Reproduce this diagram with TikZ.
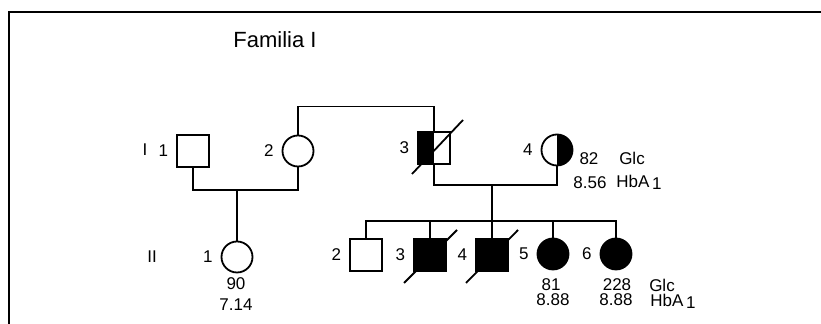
\documentclass[tikz,border=0pt]{standalone}
\usepackage{fontspec}
\setmainfont{Liberation Sans}
\usetikzlibrary{calc}
\tikzset{
  male/.style={draw,rectangle,minimum size=16pt,inner sep=0pt},
  female/.style={draw,circle,minimum size=15.5pt,inner sep=0pt},
  sick/.style={fill=black},
  lefthalf/.style={path picture={\fill[black] (path picture bounding box.south west) rectangle (path picture bounding box.north);}},
  righthalf/.style={path picture={\fill[black] (path picture bounding box.south) rectangle (path picture bounding box.north east);}},
  lab/.style={font=\fontsize{8.5}{9}\selectfont,inner sep=1pt},
  num/.style={label={[lab,label distance=2.5pt]left:#1}},
}
\begin{document}
\begin{tikzpicture}[x=0.5pt,y=-0.5pt,line width=0.9pt]
	\useasboundingbox (0,0) rectangle (821,324);
	\draw (9,340) -- (9,12) -- (840,12);
	\node[font=\fontsize{11}{12}\selectfont] (title) at (275,40) {Familia I};
	\node[lab] (genI) at (145,150) {I};
	\node[lab] (genII) at (152,257) {II};
	\node[male,num=1] (i1) at (193,151) {};
	\node[female,num=2] (i2) at (298,151) {};
	\node[male,lefthalf,num=3] (i3) at (434,148) {};
	\node[female,righthalf,num=4] (i4) at (557,150) {};
	\node[female,num=1] (ii1) at (237,257) {};
	\node[male,num=2] (ii2) at (366,255) {};
	\node[male,sick,num=3] (ii3) at (430,255) {};
	\node[male,sick,num=4] (ii4) at (492,255) {};
	\node[female,sick,num=5] (ii5) at (553,254) {};
	\node[female,sick,num=6] (ii6) at (616,254) {};
	\coordinate (m1) at (237,190);
	\coordinate (m2) at (492,185);
	\coordinate (sib) at (492,221);
	\draw (i2.north) -- ++(0,-28) -| (i3.north);
	\draw (i1.south) |- (m1) -| (i2.south);
	\draw (m1) -- (ii1.north);
	\draw (i3.south) |- (m2) -| (i4.south);
	\draw (m2) -- (sib);
	\draw (ii2.north) |- (sib) -| (ii6.north);
	\draw (ii3.north) -- (ii3.north |- sib);
	\draw (ii4.north) -- (ii4.north |- sib);
	\draw (ii5.north) -- (ii5.north |- sib);
	\draw ($(i3)+(-22,26)$) -- ($(i3)+(29,-28)$);
	\draw ($(ii3)+(-26,28)$) -- ($(ii3)+(27,-25)$);
	\draw ($(ii4)+(-26,28)$) -- ($(ii4)+(26,-25)$);
	\node[lab] (g4) at (589,159) {82};
	\node[lab] (h4) at (590,183) {8.56};
	\node[lab] (glcI) at (632,158) {Glc};
	\node[lab] (hbaI) at (639,182) {HbA\,\raisebox{-1pt}{1}};
	\node[lab] (g1) at (236,284) {90};
	\node[lab] (h1) at (236,305) {7.14};
	\node[lab] (g5) at (551,285) {81};
	\node[lab] (h5) at (553,300) {8.88};
	\node[lab] (g6) at (617,285) {228};
	\node[lab] (h6) at (616,300) {8.88};
	\node[lab] (glcII) at (662,285) {Glc};
	\node[lab] (hbaII) at (673,301) {HbA\,\raisebox{-1pt}{1}};
\end{tikzpicture}
\end{document}
